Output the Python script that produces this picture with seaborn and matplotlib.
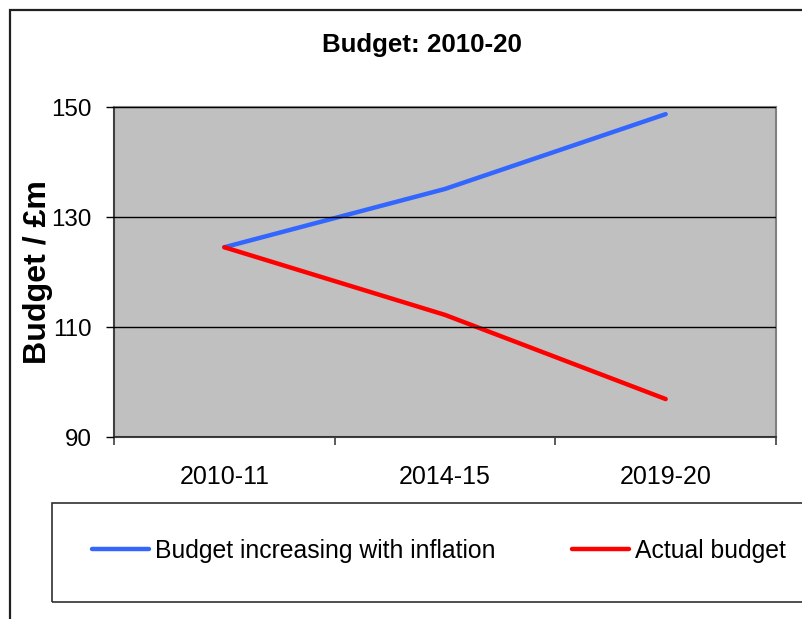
import matplotlib
matplotlib.use("Agg")
import matplotlib.pyplot as plt
import seaborn as sns
import pandas as pd
from matplotlib.patches import Rectangle
from matplotlib.ticker import FixedLocator, NullFormatter, FixedFormatter

years = ["2010-11", "2014-15", "2019-20"]
inflation_budget = [124.5, 135.1, 148.7]
actual_budget = [124.5, 112.2, 96.9]
series_names = ["Budget increasing with inflation", "Actual budget"]
series_colors = ["#3366FF", "#FF0000"]
y_ticks = [90, 110, 130, 150]

sns.set_style("white")
plt.rcParams["font.family"] = ["Liberation Sans", "DejaVu Sans"]
plt.rcParams["text.color"] = "black"
plt.rcParams["axes.labelcolor"] = "black"
plt.rcParams["xtick.color"] = "black"
plt.rcParams["ytick.color"] = "black"

df = pd.DataFrame({
    "year": years * 2,
    "x": list(range(len(years))) * 2,
    "value": inflation_budget + actual_budget,
    "series": [series_names[0]] * 3 + [series_names[1]] * 3,
})

W, H = 803, 619
fig = plt.figure(figsize=(W / 100, H / 100), dpi=100)
ax = fig.add_axes([114 / W, 1 - 437 / H, (776 - 114) / W, (437 - 107) / H])
ax.set_facecolor("#C0C0C0")

sns.lineplot(data=df, x="x", y="value", hue="series", palette=series_colors,
             linewidth=3.2, ax=ax, legend=False, sort=False)
for line in ax.get_lines():
    line.set_solid_capstyle("round")
    line.set_solid_joinstyle("round")

ax.set_xlim(-0.5, len(years) - 0.5)
ax.set_ylim(90, 150)
ax.set_yticks(y_ticks)
ax.set_yticklabels([str(t) for t in y_ticks], fontsize=17.4)
ax.yaxis.grid(True, color="black", linewidth=1)
ax.set_axisbelow(False)

ax.xaxis.set_major_locator(FixedLocator([i - 0.5 for i in range(len(years) + 1)]))
ax.xaxis.set_major_formatter(NullFormatter())
ax.xaxis.set_minor_locator(FixedLocator(list(range(len(years)))))
ax.xaxis.set_minor_formatter(FixedFormatter(years))
ax.tick_params(axis="x", which="major", direction="out", length=6, width=1.2,
               color="#404040", bottom=True)
ax.tick_params(axis="x", which="minor", length=0, pad=20, labelsize=18, bottom=True)
ax.tick_params(axis="y", which="major", direction="out", length=6, width=1,
               color="black", left=True, pad=10)

for s in ["top", "right"]:
    ax.spines[s].set_color("#808080")
    ax.spines[s].set_linewidth(1.5)
for s in ["left", "bottom"]:
    ax.spines[s].set_color("#404040")
    ax.spines[s].set_linewidth(1.5)

ax.set_xlabel("")
ax.set_ylabel("Budget / £m", fontsize=23.1, fontweight="bold")
ax.yaxis.set_label_coords((53 - 114) / (776 - 114), 0.5)

fig.text(422 / W, 1 - 45 / H, "Budget: 2010-20", fontsize=18.6,
         fontweight="bold", ha="center", va="center")

# outer chart border
fig.patches.append(Rectangle((10 / W, -0.1), 1.2, 1 - 9.5 / H + 0.1,
                             transform=fig.transFigure, fill=False,
                             edgecolor="#202020", linewidth=1.6))
# legend frame
fig.patches.append(Rectangle((52 / W, 1 - 602 / H), 1.2, 99 / H,
                             transform=fig.transFigure, fill=False,
                             edgecolor="#303030", linewidth=1.2))

handles = [plt.Line2D([], [], color=c, linewidth=3.2) for c in series_colors]
fig.legend(handles, series_names, loc="center left",
           bbox_to_anchor=(92 / W, 1 - 551 / H), ncol=2, frameon=False,
           fontsize=17.8, handlelength=2.3, handletextpad=0.25,
           columnspacing=3.1, borderpad=0, borderaxespad=0)

fig.savefig("out.png", dpi=100)
